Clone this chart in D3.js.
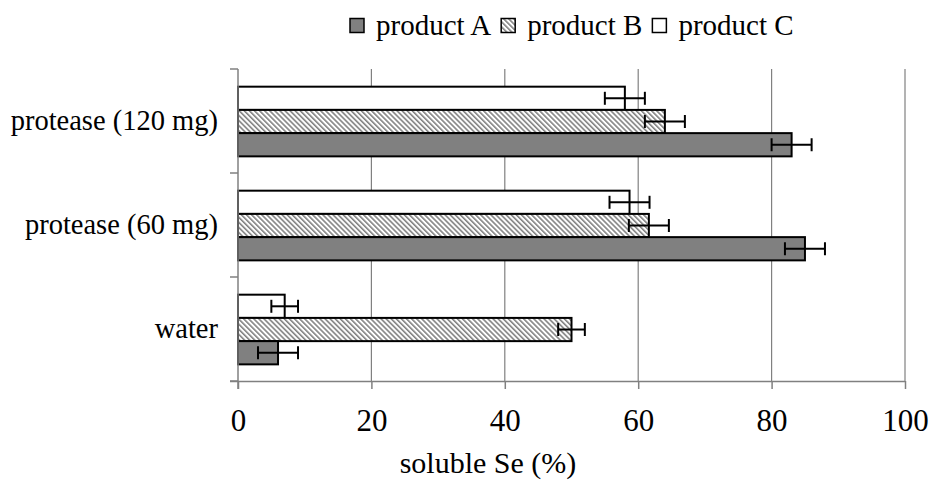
<!DOCTYPE html>
<html>
<head>
<meta charset="utf-8">
<script src="https://cdn.jsdelivr.net/npm/d3@7"></script>
<style>
  html, body { margin: 0; padding: 0; background: #fff; }
  svg text { font-family: "Liberation Serif", "Times New Roman", serif; fill: #000; }
</style>
</head>
<body>
<svg id="chart" width="929" height="482"></svg>
<script>
// Categories, listed top to bottom
const categories = ["protease (120 mg)", "protease (60 mg)", "water"];
// Series, listed top to bottom inside each group
const seriesNames = ["product C", "product B", "product A"];
const legendOrder = ["product A", "product B", "product C"];

// Soluble Se (%) per category, in category order
const productA = [83, 85, 6];
const productB = [64, 61.6, 50];
const productC = [58, 58.7, 7];

// Error (±) per category
const errA = [3, 3, 3];
const errB = [3, 3, 2];
const errC = [3, 3, 2];

const xTicks = [0, 20, 40, 60, 80, 100];
const xTitle = "soluble Se (%)";

const values = { "product A": productA, "product B": productB, "product C": productC };
const errors = { "product A": errA, "product B": errB, "product C": errC };

const svg = d3.select("#chart");

// Hatch pattern for product B
const defs = svg.append("defs");
defs.append("pattern")
  .attr("id", "hatch")
  .attr("patternUnits", "userSpaceOnUse")
  .attr("width", 3.6).attr("height", 3.6)
  .attr("patternTransform", "rotate(-45)")
  .call(p => {
    p.append("rect").attr("width", 3.6).attr("height", 3.6).attr("fill", "#fff");
    p.append("line").attr("x1", 0.8).attr("y1", 0).attr("x2", 0.8).attr("y2", 3.6)
      .attr("stroke", "#7a7a7a").attr("stroke-width", 1.5);
  });

const fills = { "product A": "#808080", "product B": "url(#hatch)", "product C": "#ffffff" };

const x = d3.scaleLinear().domain([0, 100]).range([238, 905]);
const y = d3.scaleBand().domain(categories).range([69, 381]).padding(0);
const ySub = d3.scaleBand().domain(seriesNames)
  .range([y.bandwidth() * 0.17, y.bandwidth() * 0.84]).padding(0);

// Vertical gridlines
svg.append("g").selectAll("line")
  .data(xTicks.filter(d => d > 0))
  .join("line")
  .attr("x1", d => x(d)).attr("x2", d => x(d))
  .attr("y1", y.range()[0]).attr("y2", y.range()[1])
  .attr("stroke", "#808080").attr("stroke-width", 1.2);

// Bars
const rows = [];
categories.forEach((c, i) => {
  seriesNames.forEach(s => {
    rows.push({ cat: c, series: s, value: values[s][i], err: errors[s][i] });
  });
});

svg.append("g").selectAll("rect")
  .data(rows)
  .join("rect")
  .attr("x", x(0))
  .attr("y", d => y(d.cat) + ySub(d.series))
  .attr("width", d => x(d.value) - x(0))
  .attr("height", ySub.bandwidth())
  .attr("fill", d => fills[d.series])
  .attr("stroke", "#000")
  .attr("stroke-width", 2);

// Error bars
const eb = svg.append("g").attr("stroke", "#000").attr("stroke-width", 2);
rows.forEach(d => {
  const cy = y(d.cat) + ySub(d.series) + ySub.bandwidth() / 2;
  const x0 = x(d.value - d.err), x1 = x(d.value + d.err);
  eb.append("line").attr("x1", x0).attr("x2", x1).attr("y1", cy).attr("y2", cy);
  eb.append("line").attr("x1", x0).attr("x2", x0).attr("y1", cy - 6.5).attr("y2", cy + 6.5);
  eb.append("line").attr("x1", x1).attr("x2", x1).attr("y1", cy - 6.5).attr("y2", cy + 6.5);
});

// X axis
const xAxis = svg.append("g")
  .attr("transform", `translate(0,${y.range()[1]})`)
  .call(d3.axisBottom(x).tickValues(xTicks).tickSize(8).tickPadding(20).tickSizeOuter(0));
xAxis.select(".domain").attr("stroke", "#808080").attr("stroke-width", 1.5)
  .attr("d", `M${x(0) - 8},0.5H${x(100)}`);
xAxis.selectAll(".tick line").attr("stroke", "#808080").attr("stroke-width", 1.5);
xAxis.selectAll(".tick text").attr("font-size", 31)
  .attr("font-family", "Liberation Serif, Times New Roman, serif");

// Y axis: line with ticks at category boundaries
const yAxis = svg.append("g").attr("stroke", "#808080").attr("stroke-width", 1.5);
yAxis.append("line").attr("x1", x(0)).attr("x2", x(0))
  .attr("y1", y.range()[0]).attr("y2", y.range()[1] + 8);
const bounds = categories.map(c => y(c)).concat([y.range()[1]]);
yAxis.selectAll("line.tk").data(bounds).join("line").attr("class", "tk")
  .attr("x1", x(0) - 8).attr("x2", x(0))
  .attr("y1", d => d).attr("y2", d => d);

// Category labels
svg.append("g").selectAll("text")
  .data(categories)
  .join("text")
  .attr("x", 218)
  .attr("y", d => y(d) + y.bandwidth() / 2 + 8.5)
  .attr("text-anchor", "end")
  .attr("font-size", 28.5)
  .text(d => d);

// X axis title
svg.append("text")
  .attr("x", 488).attr("y", 473)
  .attr("text-anchor", "middle")
  .attr("font-size", 30)
  .text(xTitle);

// Legend
const legend = svg.append("g");
let lx = 350;
legendOrder.forEach(s => {
  legend.append("rect")
    .attr("x", lx).attr("y", 18.5).attr("width", 14).attr("height", 14)
    .attr("fill", fills[s]).attr("stroke", "#000").attr("stroke-width", 1.5);
  const t = legend.append("text")
    .attr("x", lx + 26).attr("y", 35)
    .attr("font-size", 29)
    .text(s);
  lx = lx + 26 + t.node().getComputedTextLength() + 10;
});
</script>
</body>
</html>
